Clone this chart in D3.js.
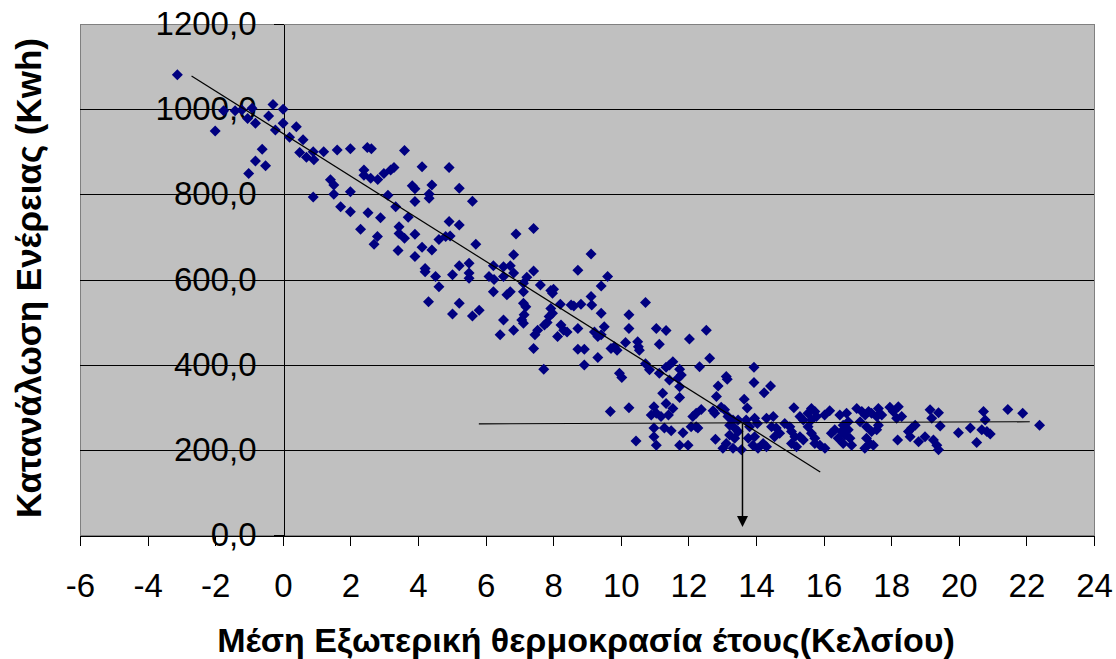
<!DOCTYPE html>
<html><head><meta charset="utf-8">
<script src="https://cdn.jsdelivr.net/npm/d3@7"></script>
<style>
body{margin:0;background:#fff;}
svg{display:block;font-family:"Liberation Sans",Arial,sans-serif;}
</style>
</head><body>
<svg id="chart" width="1116" height="659"></svg>
<script>
// ---- data ----
const xTicks = [-6,-4,-2,0,2,4,6,8,10,12,14,16,18,20,22,24];
const yTicks = [0,200,400,600,800,1000,1200];
const xTitle = "Μέση Εξωτερική θερμοκρασία έτους(Κελσίου)";
const yTitle = "Κατανάλωση Ενέρειας (Kwh)";

// [mean outdoor temperature °C, energy consumption kWh]
const observations = [
[-3.12,1081],[-1.75,996],[-1.41,996],[-2.0,949],[-1.21,998],[-1.04,978],[-0.81,967],[-0.91,1002],[-0.29,1011],[0.01,1000],
[-0.42,984],[-0.22,951],[0.01,967],[0.40,959],[0.2,934],[0.6,928],[-0.61,906],[-0.81,878],[-0.51,867],[-1.01,849],
[0.5,898],[0.7,887],[0.9,900],[0.92,881],[1.21,900],[1.61,904],[2.0,907],[2.5,910],[2.62,907],[0.9,794],
[1.41,834],[1.51,822],[1.51,800],[2.0,806],[1.71,771],[2.0,759],[2.4,857],[2.4,845],[2.6,838],[2.81,835],
[2.99,849],[3.19,857],[3.29,863],[3.11,798],[3.34,771],[2.52,757],[2.89,745],[2.3,718],[2.8,701],[2.7,683],
[3.44,724],[3.44,708],[3.41,668],
[3.6,903],[4.12,865],[4.92,863],[3.83,820],[3.91,813],[4.41,822],[4.33,801],[4.33,791],[3.91,783],[5.22,814],
[5.61,784],[3.71,746],[3.6,697],[3.91,706],[3.91,654],[4.12,676],[4.41,669],[4.62,694],[4.82,701],[4.95,702],
[4.92,736],[5.22,728],[5.71,683],[4.21,626],[4.21,618],[4.52,607],[4.62,583],[5.22,632],[5.02,611],[5.51,638],
[5.51,615],[5.51,603],[4.31,548],[5.22,544],[5.02,519],[5.61,514],[5.81,528],[6.1,607],[6.25,600],[6.23,632],
[6.53,630],[6.73,632],[6.83,615],[6.53,607],[6.23,571],[6.63,564],[6.73,571],[6.83,658],[6.9,707],[7.42,720],
[7.42,620],[7.22,605],[7.12,591],[7.12,571],[7.12,544],[7.19,536],[7.14,517],[7.07,505],[7.12,497],[6.53,505],
[6.83,481],[6.43,470],[7.62,587],[7.93,574],[8.01,577],[7.98,568],[8.21,542],[7.93,532],[7.98,521],[7.88,513],
[7.74,493],[7.82,499],[7.54,481],[7.46,470],[7.42,438],[7.72,389],[8.23,493],[8.31,481],[8.41,477],[8.13,466],
[8.53,540],[8.61,538],[8.82,542],[8.73,622],[9.12,660],[9.12,560],[9.14,540],[9.42,585],[9.61,607],[9.42,521],
[8.73,485],[9.22,477],[9.32,466],[9.42,470],[9.51,489],[8.73,436],[8.92,436],[9.32,417],[8.92,399],[9.71,438],
[9.81,442],[9.89,434],[9.96,380],
[10.73,546],[10.24,517],[10.24,485],[10.14,452],[10.5,454],[10.52,442],[10.55,434],[11.05,485],[11.34,480],[11.14,448],
[12.03,460],[12.53,481],[10.03,370],[9.69,290],[10.24,299],[10.73,402],[10.85,388],[11.14,380],[11.34,394],[11.54,407],
[11.44,399],[11.44,364],[11.74,389],[11.79,376],[11.69,368],[11.74,348],[11.24,333],[11.34,309],[11.74,323],[12.33,395],
[12.63,415],[12.88,350],[13.12,372],[13.15,366],[12.83,325],[13.94,394],[13.94,358],[14.43,350],[14.24,334],[13.65,319],
[13.74,298],[10.98,301],[10.9,282],[11.05,286],[11.19,278],[10.98,251],[10.98,231],[11.05,211],[10.45,221],[11.29,251],
[11.49,245],[11.74,211],[11.99,211],[11.84,240],[11.41,282],[11.54,297],[12.08,254],[12.23,254],[12.28,251],[12.13,278],
[12.23,286],[12.38,295],[12.73,292],[12.78,286],[12.97,300],[13.07,294],[12.8,225],[13.02,204],[13.12,215],[13.32,204],
[13.57,200],[13.22,258],[13.37,251],[13.22,235],[13.47,243],[13.37,227],[13.17,278],[13.32,270],[13.47,270],[13.71,270],
[13.81,254],[13.96,274],[14.04,262],[13.77,227],[13.96,231],[13.91,211],[14.21,215],[14.31,207],[14.06,204],[14.31,274],
[14.51,278],[14.46,254],[14.6,251],[14.55,231],[14.7,239],[14.85,262],[15.0,254],[15.05,243],[15.15,231],[15.05,215],
[15.2,207],[15.12,299],[15.3,278],[15.4,270],[15.54,286],[15.64,297],[15.74,290],[15.79,278],[15.64,270],[15.54,254],
[15.64,239],[15.74,227],[15.74,215],[15.3,231],[15.4,223],[15.89,211],
[16.18,292],[16.03,282],[16.04,204],[16.23,239],[16.33,247],[16.43,227],[16.48,282],[16.68,286],[16.73,266],[16.58,258],
[16.53,243],[16.63,235],[16.73,247],[16.78,227],[16.58,215],[16.83,211],[16.98,297],[17.13,290],[17.08,266],[17.23,282],
[17.33,290],[17.42,286],[17.27,254],[17.42,243],[17.57,247],[17.62,258],[17.27,227],[17.37,215],[17.22,204],[17.47,211],
[17.62,297],[17.72,282],[17.57,278],[17.96,300],[18.06,290],[18.21,301],[18.31,278],[18.16,274],[18.51,243],[18.61,251],
[18.71,258],[18.56,231],[18.81,219],[19.0,231],[18.19,223],[19.15,294],[19.4,287],[19.2,274],[19.45,256],[19.25,223],
[19.35,211],[19.4,200],[19.99,240],[20.34,251],[20.53,217],[20.73,290],[20.78,270],[20.68,247],[20.83,243],[20.93,237],
[21.45,295],[21.89,286],[22.39,258]
];

const heatingTrend = [[-2.7,1078],[15.9,148]];   // linear fit, heating regime
const baseTrend = [[5.8,261],[22.1,266]];        // base-load level
const balancePoint = [[13.6,262],[13.6,19]];     // arrow to balance temperature

// ---- drawing ----
const svg = d3.select("#chart");
const x = d3.scaleLinear().domain([-6,24]).range([80,1094]);
const y = d3.scaleLinear().domain([0,1200]).range([535,24]);
const fmt = d => d3.format(".1f")(d).replace(".", ",");

svg.append("rect")
  .attr("x", x(-6)+0.5).attr("y", y(1200)+0.5)
  .attr("width", x(24)-x(-6)).attr("height", y(0)-y(1200))
  .attr("fill", "#c0c0c0").attr("stroke", "#808080").attr("stroke-width", 1)
  .attr("shape-rendering", "crispEdges");

svg.append("g").selectAll("line")
  .data(yTicks.filter(v => v > 0 && v < 1200)).join("line")
  .attr("x1", x(-6)).attr("x2", x(24))
  .attr("y1", d => Math.round(y(d))+0.5).attr("y2", d => Math.round(y(d))+0.5)
  .attr("stroke", "#000").attr("stroke-width", 1)
  .attr("shape-rendering", "crispEdges");

const yAxis = svg.append("g")
  .attr("transform", `translate(${Math.round(x(0))+0.5},0)`)
  .call(d3.axisLeft(y).tickValues(yTicks).tickSize(10).tickSizeOuter(0).tickPadding(17).tickFormat(fmt));
yAxis.attr("font-size", 33).attr("font-family", null);
yAxis.selectAll("path,line").attr("stroke", "#000").attr("shape-rendering", "crispEdges");
yAxis.selectAll("text").attr("fill", "#000");

const xAxis = svg.append("g")
  .attr("transform", `translate(0,${Math.round(y(0))+0.5})`)
  .call(d3.axisBottom(x).tickValues(xTicks).tickSize(10).tickSizeOuter(0).tickPadding(28).tickFormat(d => String(d)));
xAxis.attr("font-size", 33).attr("font-family", null);
xAxis.selectAll("path,line").attr("stroke", "#000").attr("shape-rendering", "crispEdges");
xAxis.selectAll("text").attr("fill", "#000");

// points
svg.append("g").selectAll("path")
  .data(observations).join("path")
  .attr("transform", d => `translate(${x(d[0])},${y(d[1])})`)
  .attr("d", "M0,-5.5L5.5,0L0,5.5L-5.5,0Z")
  .attr("fill", "#000080");

// trend lines
const line = d3.line().x(d => x(d[0])).y(d => y(d[1]));
svg.append("path").datum(heatingTrend).attr("d", line)
  .attr("fill", "none").attr("stroke", "#000").attr("stroke-width", 1.2);
svg.append("path").datum(baseTrend).attr("d", line)
  .attr("fill", "none").attr("stroke", "#000").attr("stroke-width", 1.2);

// arrow
const ax = x(balancePoint[0][0]);
const tipY = y(balancePoint[1][1]);
svg.append("line")
  .attr("x1", ax).attr("x2", ax)
  .attr("y1", y(balancePoint[0][1])).attr("y2", tipY - 8)
  .attr("stroke", "#000").attr("stroke-width", 1.5);
svg.append("path")
  .attr("d", `M${ax-5.5},${tipY-11}L${ax+5.5},${tipY-11}L${ax},${tipY}Z`)
  .attr("fill", "#000");

// titles
svg.append("text")
  .attr("x", 586).attr("y", 652)
  .attr("text-anchor", "middle")
  .attr("font-size", 34).attr("font-weight", "bold")
  .text(xTitle);
svg.append("text")
  .attr("transform", "translate(41,278) rotate(-90)")
  .attr("text-anchor", "middle")
  .attr("font-size", 35).attr("font-weight", "bold")
  .text(yTitle);
</script>
</body></html>
